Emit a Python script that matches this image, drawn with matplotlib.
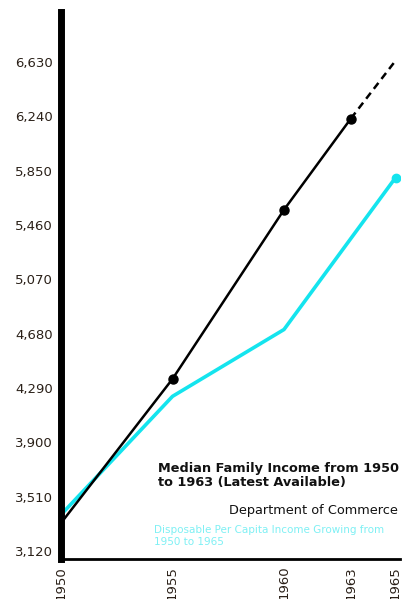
import matplotlib
matplotlib.use("Agg")
import matplotlib.pyplot as plt

# Data
years_family = [1950, 1955, 1960, 1963]
family_income = [3320, 4355, 5570, 6225]
years_projection = [1963, 1965]
family_projection = [6225, 6640]
years_disp = [1950, 1955, 1960, 1965]
disp_income = [3380, 4230, 4710, 5800]
ytick_vals = [3120, 3510, 3900, 4290, 4680, 5070, 5460, 5850, 6240, 6630]
ytick_labels = ["3,120", "3,510", "3,900", "4,290", "4,680", "5,070", "5,460", "5,850", "6,240", "6,630"]
xtick_vals = [1950, 1955, 1960, 1963, 1965]
xtick_labels = ["1950", "1955", "1960", "1963", "1965"]

fig = plt.figure(figsize=(4.04, 5.99), dpi=100)
ax = fig.add_axes([0.151, 0.067, 0.839, 0.913])

cyan = "#14e4ee"
ax.plot(years_disp, disp_income, color=cyan, lw=2.6, solid_capstyle="round", zorder=2)
ax.plot(years_disp[-1:], disp_income[-1:], "o", color=cyan, ms=6, zorder=2)
ax.plot(years_family, family_income, color="black", lw=1.8, zorder=3)
ax.plot(years_family[1:], family_income[1:], "o", color="black", ms=6.5, zorder=3)
ax.plot(years_projection, family_projection, color="black", lw=1.8, ls=(0, (3, 2)), zorder=3)

ax.set_xlim(1950, 1965.2)
ax.set_ylim(3063, 6990)
ax.set_yticks(ytick_vals)
ax.set_yticklabels(ytick_labels, fontsize=9.5, color="#2a2018")
ax.set_xticks(xtick_vals)
ax.set_xticklabels(xtick_labels, rotation=90, fontsize=9.5, color="#2a2018")
ax.tick_params(length=0, pad=6)
ax.tick_params(axis="x", pad=5)

for s in ["top", "right"]:
    ax.spines[s].set_visible(False)
ax.spines["left"].set_linewidth(5)
ax.spines["bottom"].set_linewidth(2)

ax.text(0.285, 0.178, "Median Family Income from 1950\nto 1963 (Latest Available)",
        transform=ax.transAxes, fontsize=9.3, fontweight="bold", color="#111111",
        va="top", ha="left", linespacing=1.15)
ax.text(0.995, 0.100, "Department of Commerce", transform=ax.transAxes,
        fontsize=9.3, color="#111111", ha="right", va="top")
ax.text(0.275, 0.062, "Disposable Per Capita Income Growing from\n1950 to 1965",
        transform=ax.transAxes, fontsize=7.5, color="#7ff0f4", ha="left", va="top",
        linespacing=1.3)

fig.savefig("out.png", dpi=100)
